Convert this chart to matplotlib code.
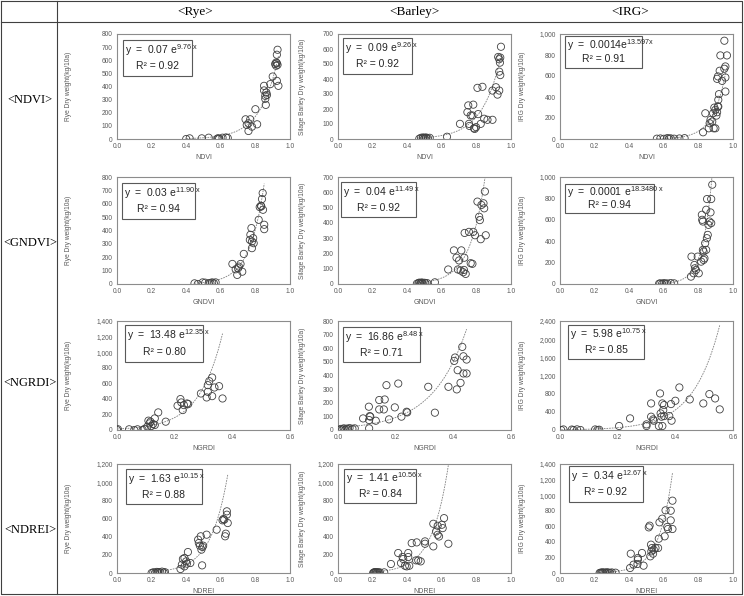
import matplotlib
matplotlib.use("Agg")
import matplotlib.pyplot as plt
import numpy as np
from matplotlib.ticker import FuncFormatter, MultipleLocator
from matplotlib.patches import Rectangle

# ---------------- data ----------------
col_titles = ["<Rye>", "<Barley>", "<IRG>"]
row_titles = ["<NDVI>", "<GNDVI>", "<NGRDI>", "<NDREI>"]
index_names = ["NDVI", "GNDVI", "NGRDI", "NDREI"]
ylabels = ["Rye Dry weight(kg/10a)", "Silage Barley Dry weight(kg/10a)", "IRG Dry weight(kg/10a)"]

# trendline coefficients (a, b) y = a*exp(b*x), r2, label strings
coef_a = [[0.07, 0.09, 0.0014], [0.03, 0.04, 0.0001], [13.48, 16.86, 5.98], [1.63, 1.41, 0.34]]
coef_b = [[9.76, 9.26, 13.597], [11.90, 11.49, 18.3480], [12.35, 8.48, 10.75], [10.15, 10.56, 12.67]]
a_text = [["0.07 e", "0.09 e", "0.0014e"], ["0.03 e", "0.04 e", "0.0001 e"],
          ["13.48 e", "16.86 e", "5.98 e"], ["1.63 e", "1.41 e", "0.34 e"]]
b_text = [["9.76 x", "9.26 x", "13.597x"], ["11.90 x", "11.49 x", "18.3480 x"],
          ["12.35 x", "8.48 x", "10.75 x"], ["10.15 x", "10.56 x", "12.67 x"]]
r2_text = [["0.92", "0.92", "0.91"], ["0.94", "0.92", "0.94"],
           ["0.80", "0.71", "0.85"], ["0.88", "0.84", "0.92"]]

y_max = [[800, 700, 1000], [800, 700, 1000], [1400, 800, 2400], [1200, 1200, 1400]]
y_step = [[100, 100, 200], [100, 100, 200], [200, 100, 400], [200, 200, 200]]
x_max = [1.0, 1.0, 0.6, 1.0]

rye_ndvi_x = [0.40, 0.42, 0.49, 0.53, 0.58, 0.585, 0.59, 0.61, 0.63, 0.64, 0.743, 0.75, 0.76, 0.77, 0.76,
              0.78, 0.80, 0.81, 0.85, 0.85, 0.857, 0.857, 0.86, 0.863, 0.867, 0.886, 0.90, 0.914, 0.92,
              0.924, 0.928, 0.924, 0.928, 0.924, 0.933, 0.92]
rye_ndvi_y = [0, 5, 5, 10, 3, 5, 2, 10, 12, 8, 150, 107, 61, 150, 120,
              94, 227, 112, 405, 370, 329, 306, 260, 354, 336, 418, 476, 571, 583,
              642, 680, 578, 565, 443, 405, 558]

barley_ndvi_x = [0.47, 0.48, 0.49, 0.49, 0.50, 0.50, 0.51, 0.51, 0.52, 0.53, 0.63, 0.705, 0.748, 0.753,
                 0.757, 0.76, 0.767, 0.777, 0.782, 0.786, 0.79, 0.798, 0.806, 0.81, 0.825, 0.835, 0.845,
                 0.864, 0.893, 0.893, 0.913, 0.922, 0.932, 0.926, 0.932, 0.936, 0.932, 0.938, 0.942, 0.938]
barley_ndvi_y = [2, 8, 5, 10, 3, 9, 6, 10, 4, 8, 15, 101, 179, 224,
                 101, 87, 157, 157, 229, 72, 67, 79, 341, 166, 101, 348, 135,
                 128, 128, 323, 345, 296, 323, 547, 532, 509, 449, 426, 615, 543]

irg_ndvi_x = [0.56, 0.58, 0.60, 0.62, 0.63, 0.64, 0.66, 0.69, 0.72, 0.827, 0.84, 0.86, 0.865, 0.87,
              0.88, 0.885, 0.888, 0.898, 0.892, 0.898, 0.904, 0.908, 0.912, 0.915, 0.915, 0.919, 0.908,
              0.913, 0.923, 0.927, 0.937, 0.95, 0.95, 0.956, 0.956, 0.965, 0.956]
irg_ndvi_y = [3, 5, 2, 8, 4, 6, 3, 5, 8, 64, 245, 102, 150, 182,
              166, 245, 102, 102, 299, 277, 223, 255, 309, 309, 373, 427, 573,
              596, 650, 796, 554, 669, 936, 691, 586, 796, 452]

rye_gndvi_x = [0.448, 0.467, 0.495, 0.51, 0.53, 0.54, 0.55, 0.56, 0.57, 0.667, 0.686, 0.695, 0.70, 0.705,
               0.714, 0.724, 0.733, 0.768, 0.771, 0.777, 0.78, 0.78, 0.787, 0.79, 0.819, 0.825, 0.834,
               0.838, 0.842, 0.844, 0.851, 0.851, 0.832]
rye_gndvi_y = [5, 0, 12, 10, 5, 8, 12, 5, 12, 150, 110, 68, 118, 130,
               150, 92, 225, 330, 368, 418, 318, 268, 343, 305, 480, 575, 580,
               635, 680, 555, 443, 410, 585]

barley_gndvi_x = [0.456, 0.465, 0.47, 0.475, 0.48, 0.485, 0.49, 0.50, 0.505, 0.515, 0.56, 0.637, 0.67,
                  0.685, 0.70, 0.693, 0.709, 0.713, 0.724, 0.728, 0.73, 0.732, 0.738, 0.757, 0.767, 0.777,
                  0.782, 0.792, 0.806, 0.816, 0.82, 0.825, 0.829, 0.841, 0.845, 0.849, 0.854]
barley_gndvi_y = [2, 6, 9, 3, 7, 10, 4, 8, 5, 6, 11, 95, 220,
                  172, 154, 95, 88, 220, 77, 92, 172, 334, 66, 341, 136, 132,
                  341, 319, 539, 440, 418, 293, 517, 528, 495, 605, 319]

irg_gndvi_x = [0.573, 0.58, 0.59, 0.60, 0.61, 0.62, 0.64, 0.66, 0.757, 0.76, 0.773, 0.777, 0.78, 0.786,
               0.796, 0.802, 0.816, 0.82, 0.822, 0.826, 0.826, 0.83, 0.83, 0.835, 0.839, 0.845, 0.849,
               0.85, 0.854, 0.858, 0.864, 0.87, 0.874, 0.874, 0.88, 0.845]
irg_gndvi_y = [3, 6, 2, 8, 4, 5, 9, 6, 69, 256, 100, 178, 147, 131,
               256, 100, 209, 647, 600, 584, 319, 225, 303, 240, 381, 694, 428,
               794, 459, 553, 584, 669, 569, 794, 928, 319]

rye_ngrdi_x = [0.0, 0.003, 0.042, 0.06, 0.071, 0.089, 0.095, 0.105, 0.109, 0.113, 0.116, 0.119, 0.125,
               0.131, 0.131, 0.143, 0.169, 0.21, 0.22, 0.223, 0.228, 0.232, 0.243, 0.247, 0.291, 0.311,
               0.315, 0.32, 0.33, 0.33, 0.338, 0.354, 0.366, 0.315]
rye_ngrdi_y = [0, 10, 9, 0, 9, 0, 13, 43, 120, 85, 107, 51, 77,
               149, 64, 226, 107, 312, 397, 354, 256, 320, 341, 333, 469, 418,
               576, 627, 674, 435, 546, 563, 405, 490]

barley_ngrdi_x = [0.006, 0.01, 0.015, 0.02, 0.025, 0.03, 0.035, 0.04, 0.05, 0.058, 0.087, 0.107, 0.108,
                  0.11, 0.112, 0.108, 0.131, 0.143, 0.143, 0.159, 0.162, 0.168, 0.177, 0.197, 0.209, 0.22,
                  0.238, 0.24, 0.313, 0.336, 0.383, 0.403, 0.406, 0.412, 0.415, 0.425, 0.431, 0.435,
                  0.435, 0.446, 0.446]
barley_ngrdi_y = [2, 8, 5, 12, 3, 10, 6, 14, 9, 12, 85, 171, 73,
                  102, 98, 12, 68, 220, 151, 151, 224, 329, 78, 166, 341, 98,
                  134, 129, 317, 127, 317, 507, 532, 298, 439, 346, 610, 415,
                  541, 517, 415]

irg_ngrdi_x = [0.004, 0.012, 0.041, 0.047, 0.059, 0.071, 0.122, 0.13, 0.136, 0.205, 0.243, 0.30, 0.30,
               0.316, 0.316, 0.323, 0.325, 0.343, 0.347, 0.349, 0.352, 0.355, 0.355, 0.358, 0.361, 0.361,
               0.379, 0.385, 0.387, 0.40, 0.414, 0.45, 0.497, 0.518, 0.538, 0.554]
irg_ngrdi_y = [0, 12, 10, 0, 14, 0, 12, 0, 6, 88, 256, 124, 88,
               293, 585, 234, 205, 88, 805, 366, 293, 585, 88, 439, 549, 307,
               307, 571, 205, 644, 937, 673, 585, 790, 695, 454]

rye_ndrei_x = [0.20, 0.21, 0.22, 0.23, 0.235, 0.24, 0.25, 0.26, 0.27, 0.277, 0.367, 0.375, 0.381, 0.39,
               0.39, 0.40, 0.404, 0.41, 0.424, 0.469, 0.473, 0.479, 0.484, 0.488, 0.492, 0.494, 0.498,
               0.518, 0.576, 0.61, 0.615, 0.625, 0.629, 0.635, 0.635, 0.64, 0.62]
rye_ndrei_y = [0, 8, 3, 12, 5, 10, 6, 15, 4, 9, 44, 92, 154, 165,
               73, 128, 103, 231, 110, 367, 330, 301, 404, 257, 84, 286, 301,
               422, 477, 580, 594, 404, 433, 679, 642, 550, 587]

barley_ndrei_x = [0.203, 0.208, 0.212, 0.216, 0.22, 0.225, 0.23, 0.236, 0.242, 0.267, 0.306, 0.348, 0.364,
                  0.373, 0.377, 0.387, 0.397, 0.406, 0.406, 0.412, 0.426, 0.455, 0.451, 0.464, 0.478,
                  0.503, 0.503, 0.551, 0.551, 0.567, 0.576, 0.576, 0.584, 0.60, 0.605, 0.613, 0.638]
barley_ndrei_y = [0, 6, 10, 3, 8, 5, 9, 2, 7, 7, 99, 220, 110,
                  176, 154, 80, 73, 220, 176, 80, 329, 337, 139, 139, 128,
                  322, 348, 293, 542, 457, 520, 421, 402, 531, 494, 604, 322]

irg_ndrei_x = [0.229, 0.235, 0.24, 0.245, 0.25, 0.258, 0.265, 0.272, 0.28, 0.29, 0.30, 0.321, 0.405,
               0.409, 0.425, 0.448, 0.45, 0.45, 0.474, 0.483, 0.513, 0.518, 0.522, 0.526, 0.528, 0.532,
               0.538, 0.542, 0.552, 0.567, 0.571, 0.575, 0.591, 0.605, 0.61, 0.62, 0.624, 0.64, 0.64,
               0.65, 0.65]
irg_ndrei_y = [0, 5, 2, 8, 4, 6, 3, 9, 5, 2, 7, 4, 64,
               248, 107, 116, 193, 171, 257, 94, 586, 608, 214, 364, 278, 321,
               248, 300, 321, 321, 441, 651, 698, 471, 805, 591, 565, 676, 800,
               565, 929]

panel_x = [[rye_ndvi_x, barley_ndvi_x, irg_ndvi_x],
           [rye_gndvi_x, barley_gndvi_x, irg_gndvi_x],
           [rye_ngrdi_x, barley_ngrdi_x, irg_ngrdi_x],
           [rye_ndrei_x, barley_ndrei_x, irg_ndrei_x]]
panel_y = [[rye_ndvi_y, barley_ndvi_y, irg_ndvi_y],
           [rye_gndvi_y, barley_gndvi_y, irg_gndvi_y],
           [rye_ngrdi_y, barley_ngrdi_y, irg_ngrdi_y],
           [rye_ndrei_y, barley_ndrei_y, irg_ndrei_y]]

# ---------------- layout (pixels) ----------------
W, H = 744, 596
col_lr = [(117, 290), (338, 511), (560, 733)]
row_tb = [(34, 139), (177, 284), (321, 430), (464, 573)]
ylabel_off = [45, 32, 34]
header_y = 12
header_x = [195, 415, 630]
rowlab_x = 30
rowlab_y = [100, 243, 383, 530]
# equation box (left, top, right, bottom) in pixels
boxes = [[(123, 40, 192, 76), (343, 38, 412, 74), (565, 36, 642, 68)],
         [(122, 183, 195, 219), (341, 182, 416, 217), (565, 184, 654, 213)],
         [(125, 325, 203, 362), (343, 327, 420, 362), (568, 325, 644, 359)],
         [(126, 469, 202, 504), (344, 469, 416, 503), (569, 466, 643, 502)]]

plt.rcParams['font.family'] = ['Liberation Sans', 'DejaVu Sans']
fig = plt.figure(figsize=(W / 100, H / 100), dpi=100)

# background table lines
bg = fig.add_axes([0, 0, 1, 1])
bg.set_xlim(0, W)
bg.set_ylim(H, 0)
bg.axis('off')
lc = '#404040'
bg.plot([1, W - 2, W - 2, 1, 1], [1, 1, H - 2, H - 2, 1], color=lc, lw=0.8)
bg.plot([1, W - 2], [22, 22], color=lc, lw=0.8)
bg.plot([57, 57], [1, H - 2], color=lc, lw=0.8)
for t, x in zip(col_titles, header_x):
    bg.text(x, header_y, t, ha='center', va='center', fontsize=9.5,
            family=['Liberation Serif', 'DejaVu Serif'])
for t, y in zip(row_titles, rowlab_y):
    bg.text(rowlab_x, y, t, ha='center', va='center', fontsize=9,
            family=['Liberation Serif', 'DejaVu Serif'])

tick_col = '#595959'
frame_col = '#8c8c8c'
for r in range(4):
    for c in range(3):
        l, rr = col_lr[c]
        t, b = row_tb[r]
        ax = fig.add_axes([l / W, 1 - b / H, (rr - l) / W, (b - t) / H])
        xs = np.array(panel_x[r][c], dtype=float)
        ys = np.array(panel_y[r][c], dtype=float)
        ax.scatter(xs, ys, s=27, facecolors='none', edgecolors='#404040', linewidths=0.6, zorder=3)
        xx = np.linspace(xs.min(), xs.max(), 200)
        ax.plot(xx, coef_a[r][c] * np.exp(coef_b[r][c] * xx), color='#7f7f7f', lw=0.6,
                dashes=(2, 1.2), zorder=2)
        ax.set_xlim(0, x_max[r])
        ax.set_ylim(0, y_max[r][c])
        ax.xaxis.set_major_locator(MultipleLocator(0.2))
        ax.yaxis.set_major_locator(MultipleLocator(y_step[r][c]))
        ax.xaxis.set_major_formatter(FuncFormatter(lambda v, p: f"{v:.1f}"))
        ax.yaxis.set_major_formatter(FuncFormatter(lambda v, p: f"{v:,.0f}"))
        ax.tick_params(length=0, labelsize=4.8, labelcolor=tick_col, pad=3)
        for sp in ax.spines.values():
            sp.set_color(frame_col)
            sp.set_linewidth(0.8)
        ax.set_xlabel(index_names[r], fontsize=5, color=tick_col, labelpad=3)
        ax.set_ylabel(ylabels[c], fontsize=4.8, color=tick_col)
        ax.yaxis.set_label_coords(-ylabel_off[c] / (rr - l), 0.5)
        # equation box
        bl, bt, br, bb = boxes[r][c]
        fx0 = (bl - l) / (rr - l)
        fx1 = (br - l) / (rr - l)
        fy0 = (b - bb) / (b - t)
        fy1 = (b - bt) / (b - t)
        ax.add_patch(Rectangle((fx0, fy0), fx1 - fx0, fy1 - fy0, transform=ax.transAxes,
                               facecolor='white', edgecolor='#595959', lw=0.8, zorder=5))
        eq = r"$\mathregular{y\ =\ " + a_text[r][c].replace(" ", r"\ ") + "^{" + \
             b_text[r][c].replace(" ", r"\ ") + "}}$"
        ax.text(fx0 + 0.01, fy0 + (fy1 - fy0) * 0.72, eq, transform=ax.transAxes,
                ha='left', va='center', fontsize=7.5, color='#262626', zorder=6)
        ax.text((fx0 + fx1) / 2, fy0 + (fy1 - fy0) * 0.27, "R\u00b2 = " + r2_text[r][c],
                transform=ax.transAxes, ha='center', va='center', fontsize=7.5,
                color='#262626', zorder=6)

fig.savefig("out.png", dpi=100)
